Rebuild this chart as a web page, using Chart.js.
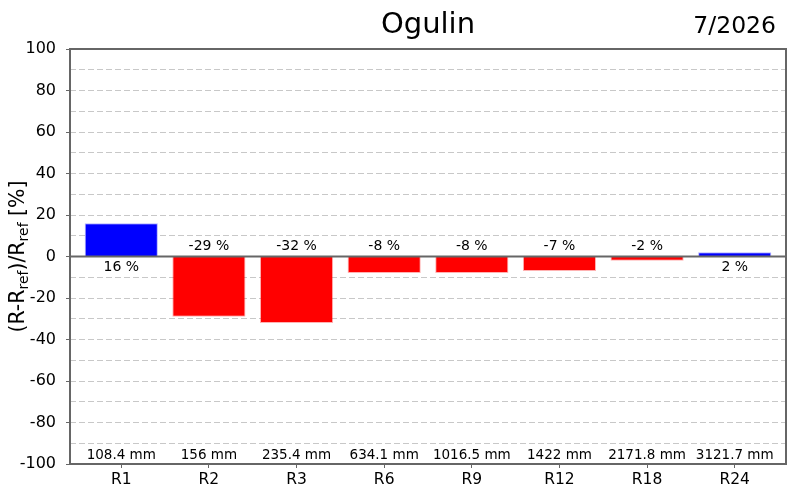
<!DOCTYPE html>
<html>
<head>
<meta charset="utf-8">
<script src="https://cdn.jsdelivr.net/npm/chart.js@4/dist/chart.umd.min.js"></script>
<style>
  html, body { margin: 0; padding: 0; background: #fff; }
  #wrap { width: 800px; height: 500px; }
</style>
</head>
<body>
<div id="wrap"><canvas id="chart" width="800" height="500"></canvas></div>
<script>
const categories = ['R1', 'R2', 'R3', 'R6', 'R9', 'R12', 'R18', 'R24'];
const deviation = [16, -29, -32, -8, -8, -7, -2, 2];
const amounts = ['108.4 mm', '156 mm', '235.4 mm', '634.1 mm', '1016.5 mm', '1422 mm', '2171.8 mm', '3121.7 mm'];
const yTicks = [-100, -80, -60, -40, -20, 0, 20, 40, 60, 80, 100];

const FONT = "'DejaVu Sans', sans-serif";

// labels, zero line, frame, titles
const decorations = {
    id: 'decorations',
    afterDatasetsDraw(chart) {
        const ctx = chart.ctx;
        const area = chart.chartArea;
        const x = chart.scales.x;
        const y = chart.scales.y;
        const y0 = y.getPixelForValue(0);

        ctx.save();
        // zero line
        ctx.strokeStyle = '#666';
        ctx.lineWidth = 2;
        ctx.beginPath();
        ctx.moveTo(area.left, y0);
        ctx.lineTo(area.right, y0);
        ctx.stroke();

        // value labels
        ctx.fillStyle = '#000';
        ctx.textAlign = 'center';
        ctx.textBaseline = 'middle';
        deviation.forEach((v, i) => {
            const px = x.getPixelForValue(i);
            ctx.font = '14px ' + FONT;
            ctx.fillText(v + ' %', px, v >= 0 ? y0 + 11 : y0 - 10);
            ctx.font = '13.5px ' + FONT;
            ctx.fillText(amounts[i], px, y.getPixelForValue(-100) - 9);
        });

        // frame
        ctx.strokeStyle = '#666';
        ctx.lineWidth = 2;
        ctx.strokeRect(area.left, area.top, area.right - area.left, area.bottom - area.top);

        // titles
        ctx.font = '29px ' + FONT;
        ctx.textAlign = 'center';
        ctx.textBaseline = 'middle';
        ctx.fillText('Ogulin', (area.left + area.right) / 2, 25);
        ctx.font = '23.5px ' + FONT;
        ctx.textAlign = 'right';
        ctx.fillText('7/2026', 776, 27);

        // y axis title with subscripts
        ctx.translate(24, (area.top + area.bottom) / 2);
        ctx.rotate(-Math.PI / 2);
        const parts = [['(R-R', false], ['ref', true], [')/R', false], ['ref', true], [' [%]', false]];
        const big = '20.5px ' + FONT, small = '14px ' + FONT;
        let total = 0;
        parts.forEach(p => { ctx.font = p[1] ? small : big; total += ctx.measureText(p[0]).width; });
        let cx = -total / 2;
        ctx.textAlign = 'left';
        ctx.textBaseline = 'alphabetic';
        parts.forEach(p => {
            ctx.font = p[1] ? small : big;
            ctx.fillText(p[0], cx, p[1] ? 4 : 0);
            cx += ctx.measureText(p[0]).width;
        });
        ctx.restore();
    }
};

new Chart(document.getElementById('chart'), {
    type: 'bar',
    data: {
        datasets: [{
            data: deviation.map((v, i) => ({ x: i, y: v })),
            backgroundColor: deviation.map(v => v >= 0 ? '#0000ff' : '#ff0000'),
            borderColor: deviation.map(v => v >= 0 ? 'rgba(0,0,255,0.3)' : 'rgba(255,0,0,0.3)'),
            borderWidth: 1,
            barPercentage: 0.835,
            categoryPercentage: 1
        }]
    },
    options: {
        responsive: false,
        animation: false,
        layout: { padding: { top: 49, right: 14, left: 0, bottom: 0 } },
        plugins: { legend: { display: false }, tooltip: { enabled: false } },
        scales: {
            x: {
                type: 'linear',
                min: -0.585,
                max: 7.585,
                offset: false,
                afterFit(scale) { scale.height = 36; },
                afterBuildTicks(scale) {
                    scale.ticks = categories.map((c, i) => ({ value: i }));
                },
                grid: { display: true, offset: false, drawOnChartArea: false, tickLength: 4, color: '#666' },
                border: { display: false },
                ticks: {
                    color: '#000',
                    font: { family: FONT, size: 15.5 },
                    padding: 3,
                    autoSkip: false,
                    maxRotation: 0,
                    callback: v => categories[v] || ''
                }
            },
            y: {
                min: -100,
                max: 100,
                afterFit(scale) { scale.width = 70; },
                afterBuildTicks(scale) {
                    const t = [];
                    for (let v = -100; v <= 100; v += 10) t.push({ value: v });
                    scale.ticks = t;
                },
                grid: {
                    color: '#c8c8c8',
                    tickColor: ctx => (ctx.tick && yTicks.includes(ctx.tick.value)) ? '#666' : 'rgba(0,0,0,0)',
                    tickBorderDash: [],
                    tickLength: 4,
                    lineWidth: 1
                },
                border: { display: false, dash: [6, 3] },
                ticks: {
                    color: '#000',
                    font: { family: FONT, size: 16 },
                    padding: 10,
                    autoSkip: false,
                    callback: v => yTicks.includes(v) ? String(v) : ''
                }
            }
        }
    },
    plugins: [decorations]
});
</script>
</body>
</html>
